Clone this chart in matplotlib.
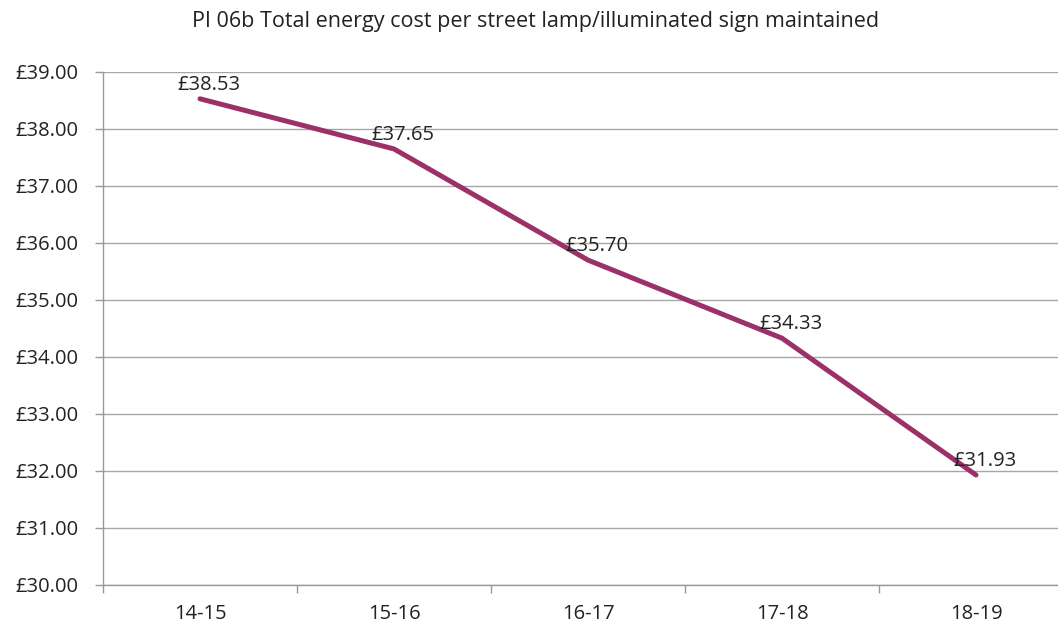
import numpy as np
import matplotlib.pyplot as plt

# Data
years = ['14-15', '15-16', '16-17', '17-18', '18-19']
cost = [38.53, 37.65, 35.70, 34.33, 31.93]
yticks = np.arange(30, 40, 1)

plt.rcParams['font.family'] = ['Open Sans', 'DejaVu Sans']

fig = plt.figure(figsize=(10.58, 6.30), dpi=100)
ax = fig.add_axes([103 / 1058, 1 - 585 / 630, 970 / 1058, 513 / 630])

x = np.arange(len(years))
ax.plot(x, cost, color='#9C3167', linewidth=3.6, solid_capstyle='round', zorder=3)

for xi, v in zip(x, cost):
    ax.annotate('£%.2f' % v, (xi, v), xytext=(-16, 3), textcoords='offset points',
                ha='left', va='bottom', fontsize=14.5, color='#222222')

ax.set_xlim(-0.5, len(years) - 0.5)
ax.set_ylim(30, 39)
ax.set_yticks(yticks)
ax.set_yticklabels(['£%.2f' % t for t in yticks])
ax.set_xticks(x)
ax.set_xticklabels(years)
ax.set_xticks(np.arange(-0.5, len(years)), minor=True)

ax.tick_params(axis='x', which='major', length=0, pad=14, labelsize=14.5, labelcolor='#222222')
ax.tick_params(axis='x', which='minor', length=6, color='#999999', width=1)
ax.tick_params(axis='y', length=6, color='#999999', width=1, labelsize=14.5,
               labelcolor='#222222', pad=12)

ax.grid(axis='y', color='#A6A6A6', linewidth=1)
ax.set_axisbelow(True)
for s in ['top', 'right']:
    ax.spines[s].set_visible(False)
for s in ['left', 'bottom']:
    ax.spines[s].set_color('#999999')
    ax.spines[s].set_linewidth(1)

fig.text(536 / 1058, 1 - 22 / 630, 'PI 06b Total energy cost per street lamp/illuminated sign maintained',
         ha='center', va='center', fontsize=15.5, color='#222222')

fig.savefig('out.png', dpi=100)
